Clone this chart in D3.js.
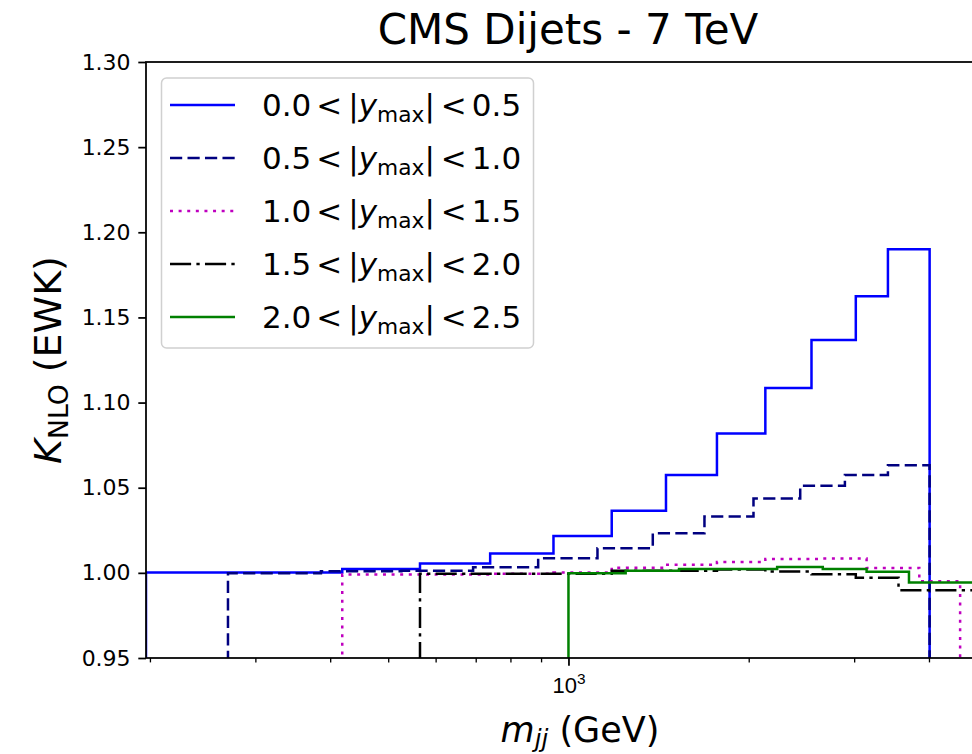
<!DOCTYPE html>
<html>
<head>
<meta charset="utf-8">
<script src="https://cdn.jsdelivr.net/npm/d3@7"></script>
<style>
  html, body { margin: 0; padding: 0; background: #fff; overflow: hidden; }
  svg { display: block; font-family: "DejaVu Sans", sans-serif; }
</style>
</head>
<body>
<svg id="chart" width="972" height="754"></svg>
<script>
// ---------- data ----------
const seriesLabels = [["0.0", "0.5"], ["0.5", "1.0"], ["1.0", "1.5"], ["1.5", "2.0"], ["2.0", "2.5"]];

const edges0 = [197, 419, 565, 740, 944, 1181, 1455, 1770, 2132, 2546, 3019, 3416, 4010];
const vals0  = [1.0002, 1.0022, 1.0055, 1.0113, 1.0217, 1.0364, 1.0574, 1.0818, 1.1085, 1.1367, 1.1625, 1.1901];

const edges1 = [270, 386, 526, 693, 890, 1118, 1383, 1687, 2037, 2438, 2895, 3416, 4010];
const vals1  = [0.9998, 1.0010, 1.0013, 1.0033, 1.0086, 1.0145, 1.0233, 1.0331, 1.0436, 1.0511, 1.0574, 1.0632];

const edges2 = [419, 740, 944, 1181, 1455, 1770, 2132, 2659, 3147, 3854, 4509];
const vals2  = [0.9990, 0.9995, 1.0002, 1.0030, 1.0047, 1.0064, 1.0082, 1.0084, 1.0029, 0.9950];

const edges3 = [565, 1181, 1770, 2132, 2546, 3019, 3558, 5058];
const vals3  = [0.9995, 1.0012, 1.0020, 1.0008, 0.9992, 0.9972, 0.9898];

const edges4 = [1000, 1246, 1530, 2231, 2659, 3147, 3704, 5058];
const vals4  = [0.9998, 1.0012, 1.0022, 1.0035, 1.0022, 1.0007, 0.9944];

const yTicks = [0.95, 1.00, 1.05, 1.10, 1.15, 1.20, 1.25, 1.30];
const xMinorTicks = [200, 300, 400, 500, 600, 700, 800, 900, 2000, 3000, 4000, 5000];
const xMajorTicks = [1000];

const titleText = "CMS Dijets - 7 TeV";

// ---------- styles ----------
const S = 2.2;                // pt -> px scale
const LW = 2.5;
const styles = [
  { color: "#0000ff", dash: null },
  { color: "#000080", dash: [3.7 * 3.3, 1.6 * 3.3] },
  { color: "#bf00bf", dash: [1 * 3.0, 1.65 * 3.4] },
  { color: "#000000", dash: [6.4 * 3.3, 1.6 * 3.3, 1 * 3.3, 1.6 * 3.3] },
  { color: "#008000", dash: null }
];
const series = [
  { edges: edges0, vals: vals0 },
  { edges: edges1, vals: vals1 },
  { edges: edges2, vals: vals2 },
  { edges: edges3, vals: vals3 },
  { edges: edges4, vals: vals4 }
];

// ---------- layout ----------
const L = 146, R = 990, T = 62, B = 658;
const x = d3.scaleLog().domain([197, 5058]).range([L, R]);
const y = d3.scaleLinear().domain([0.95, 1.30]).range([B, T]);

const svg = d3.select("#chart");

svg.append("defs").append("clipPath").attr("id", "plotclip")
  .append("rect").attr("x", L).attr("y", T).attr("width", R - L).attr("height", B - T);

// ---------- step lines (histtype="step") ----------
const plot = svg.append("g").attr("clip-path", "url(#plotclip)");
series.forEach((s, i) => {
  const pts = [];
  pts.push([x(s.edges[0]), y(0.95) + 5]);
  s.vals.forEach((v, k) => {
    pts.push([x(s.edges[k]), y(v)]);
    pts.push([x(s.edges[k + 1]), y(v)]);
  });
  pts.push([x(s.edges[s.edges.length - 1]), y(0.95) + 5]);
  plot.append("path")
    .attr("d", d3.line()(pts))
    .attr("fill", "none")
    .attr("stroke", styles[i].color)
    .attr("stroke-width", LW)
    .attr("stroke-linejoin", "miter")
    .attr("stroke-dasharray", styles[i].dash ? styles[i].dash.join(",") : null);
});

// ---------- axes ----------
const axW = 0.8 * S;
svg.append("rect").attr("x", L).attr("y", T).attr("width", R - L).attr("height", B - T)
  .attr("fill", "none").attr("stroke", "#000").attr("stroke-width", axW);

// y axis
const yAxis = d3.axisLeft(y).tickValues(yTicks).tickFormat(d3.format(".2f"))
  .tickSize(3.5 * S).tickPadding(3.5 * S);
const gy = svg.append("g").attr("transform", `translate(${L},0)`).call(yAxis);
gy.select(".domain").remove();
gy.selectAll(".tick line").attr("stroke", "#000").attr("stroke-width", axW);
gy.selectAll(".tick text").attr("font-size", 22).attr("fill", "#000")
  .attr("font-family", "DejaVu Sans");

// x axis minor
const xMinor = d3.axisBottom(x).tickValues(xMinorTicks).tickFormat("").tickSize(2 * S);
const gxm = svg.append("g").attr("transform", `translate(0,${B})`).call(xMinor);
gxm.select(".domain").remove();
gxm.selectAll(".tick line").attr("stroke", "#000").attr("stroke-width", 0.6 * S);

// x axis major
const xMajor = d3.axisBottom(x).tickValues(xMajorTicks).tickFormat("").tickSize(3.5 * S);
const gxM = svg.append("g").attr("transform", `translate(0,${B})`).call(xMajor);
gxM.select(".domain").remove();
gxM.selectAll(".tick line").attr("stroke", "#000").attr("stroke-width", axW);
gxM.selectAll(".tick").each(function(d) {
  const t = d3.select(this).append("text")
    .attr("y", 3.5 * S + 3.5 * S + 20).attr("text-anchor", "middle")
    .attr("fill", "#000").attr("font-size", 22);
  t.append("tspan").text("10");
  t.append("tspan").attr("font-size", 15.4).attr("dy", -9).text(String(Math.round(Math.log10(d))));
});

// ---------- title ----------
svg.append("text").attr("x", (L + R) / 2).attr("y", 44).attr("text-anchor", "middle")
  .attr("font-size", 42).attr("fill", "#000").text(titleText);

// ---------- axis labels ----------
const xl = svg.append("text").attr("x", 580).attr("y", 742).attr("text-anchor", "middle")
  .attr("font-size", 35).attr("fill", "#000");
xl.append("tspan").attr("font-style", "italic").text("m");
xl.append("tspan").attr("font-style", "italic").attr("font-size", 24.5).attr("dy", 5).text("jj");
xl.append("tspan").attr("dy", -5).text(" (GeV)");

const yl = svg.append("text")
  .attr("transform", `translate(61,${(T + B) / 2}) rotate(-90)`)
  .attr("text-anchor", "middle").attr("font-size", 38).attr("fill", "#000");
yl.append("tspan").attr("font-style", "italic").text("K");
yl.append("tspan").attr("font-size", 26.6).attr("dy", 7).text("NLO");
yl.append("tspan").attr("dy", -7).text(" (EWK)");

// ---------- legend ----------
const lg = svg.append("g");
lg.append("rect").attr("x", 161.5).attr("y", 78).attr("width", 372).attr("height", 270)
  .attr("rx", 5).attr("fill", "#fff").attr("fill-opacity", 0.8)
  .attr("stroke", "#d0d0d0").attr("stroke-width", 1.5);
const rowY = d3.scaleLinear().domain([0, 4]).range([105, 317]);
seriesLabels.forEach((lab, i) => {
  const yy = rowY(i);
  lg.append("line").attr("x1", 170).attr("x2", 235).attr("y1", yy).attr("y2", yy)
    .attr("stroke", styles[i].color).attr("stroke-width", LW)
    .attr("stroke-dasharray", styles[i].dash ? styles[i].dash.join(",") : null);
  const t = lg.append("text").attr("x", 262).attr("y", yy + 11).attr("font-size", 31).attr("fill", "#000");
  t.append("tspan").text(lab[0]);
  t.append("tspan").attr("dx", 5).text("<");
  t.append("tspan").attr("dx", 6).text("|");
  t.append("tspan").attr("font-style", "italic").text("y");
  t.append("tspan").attr("font-size", 21.7).attr("dy", 6).text("max");
  t.append("tspan").attr("dy", -6).text("|");
  t.append("tspan").attr("dx", 6).text("<");
  t.append("tspan").attr("dx", 5).text(lab[1]);
});
</script>
</body>
</html>
